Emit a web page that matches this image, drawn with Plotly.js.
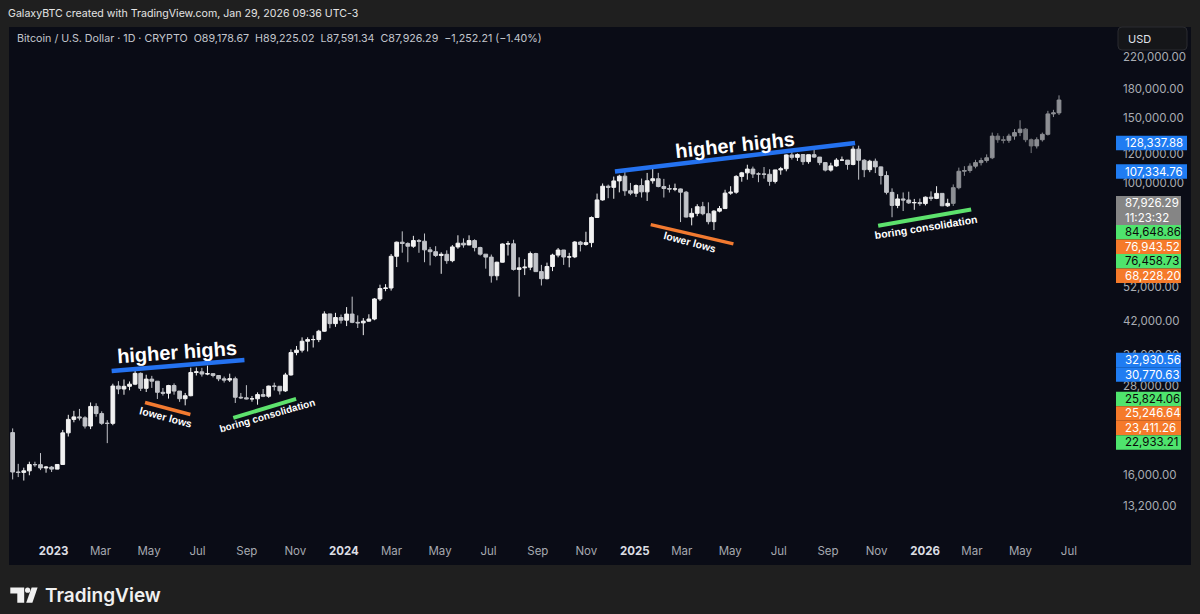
<!DOCTYPE html>
<html><head><meta charset="utf-8">
<script src="https://cdn.plot.ly/plotly-3.0.1.min.js"></script>
<style>html,body{margin:0;padding:0;background:#1f1f1f;}#chart{width:1200px;height:614px;}</style>
</head><body><div id="chart"></div><script>
// ---------------- DATA (weekly candles) ----------------
const weekStart = [
 '2022-11-07','2022-11-14','2022-11-21','2022-11-28','2022-12-05','2022-12-12','2022-12-19','2022-12-26',
 '2023-01-02','2023-01-09','2023-01-16','2023-01-23','2023-01-30','2023-02-06','2023-02-13','2023-02-20','2023-02-27',
 '2023-03-06','2023-03-13','2023-03-20','2023-03-27','2023-04-03','2023-04-10','2023-04-17','2023-04-24',
 '2023-05-01','2023-05-08','2023-05-15','2023-05-22','2023-05-29','2023-06-05','2023-06-12','2023-06-19','2023-06-26',
 '2023-07-03','2023-07-10','2023-07-17','2023-07-24','2023-07-31','2023-08-07','2023-08-14','2023-08-21','2023-08-28',
 '2023-09-04','2023-09-11','2023-09-18','2023-09-25','2023-10-02','2023-10-09','2023-10-16','2023-10-23','2023-10-30',
 '2023-11-06','2023-11-13','2023-11-20','2023-11-27','2023-12-04','2023-12-11','2023-12-18','2023-12-25',
 '2024-01-01','2024-01-08','2024-01-15','2024-01-22','2024-01-29','2024-02-05','2024-02-12','2024-02-19','2024-02-26',
 '2024-03-04','2024-03-11','2024-03-18','2024-03-25','2024-04-01','2024-04-08','2024-04-15','2024-04-22','2024-04-29',
 '2024-05-06','2024-05-13','2024-05-20','2024-05-27','2024-06-03','2024-06-10','2024-06-17','2024-06-24',
 '2024-07-01','2024-07-08','2024-07-15','2024-07-22','2024-07-29','2024-08-05','2024-08-12','2024-08-19','2024-08-26',
 '2024-09-02','2024-09-09','2024-09-16','2024-09-23','2024-09-30','2024-10-07','2024-10-14','2024-10-21','2024-10-28',
 '2024-11-04','2024-11-11','2024-11-18','2024-11-25','2024-12-02','2024-12-09','2024-12-16','2024-12-23','2024-12-30',
 '2025-01-06','2025-01-13','2025-01-20','2025-01-27','2025-02-03','2025-02-10','2025-02-17','2025-02-24',
 '2025-03-03','2025-03-10','2025-03-17','2025-03-24','2025-03-31','2025-04-07','2025-04-14','2025-04-21','2025-04-28',
 '2025-05-05','2025-05-12','2025-05-19','2025-05-26','2025-06-02','2025-06-09','2025-06-16','2025-06-23','2025-06-30',
 '2025-07-07','2025-07-14','2025-07-21','2025-07-28','2025-08-04','2025-08-11','2025-08-18','2025-08-25',
 '2025-09-01','2025-09-08','2025-09-15','2025-09-22','2025-09-29','2025-10-06','2025-10-13','2025-10-20','2025-10-27',
 '2025-11-03','2025-11-10','2025-11-17','2025-11-24','2025-12-01','2025-12-08','2025-12-15','2025-12-22','2025-12-29',
 '2026-01-05','2026-01-12','2026-01-19','2026-01-26'
];
const weekOpen = [
 20905,16330,16290,16450,17110,17100,16750,16840,
 16630,17120,20870,22710,23070,22930,21780,24630,23550,22160,22150,27990,27470,27940,28320,30300,27590,29230,28850,26910,26750,28080,27120,25850,26340,30470,30590,30170,30250,29900,29280,29050,29300,26090,26000,25830,25840,26530,26250,27980,27950,27150,30000,34520,35040,37060,37450,37450,39460,43980,41380,43000,
 42280,43940,41720,41580,42030,42590,48300,51570,51730,63100,68950,68390,67210,69650,69360,65700,64950,63430,63900,61400,66920,68500,67760,69650,66650,63950,62780,55850,60800,68160,68250,58120,58700,58950,64200,57330,54840,59200,63580,65640,62820,62870,69000,67950,68750,80470,89850,97900,97200,101200,104250,95150,93700,
 98300,94500,101300,102600,97700,96500,96150,96250,94300,80700,82600,86100,82400,78400,83750,85100,93750,94300,104100,106450,109000,105700,105700,105500,100900,108400,109200,119100,117300,119400,114200,119300,117500,113500,108300,111200,115300,115300,112200,123500,115200,108600,114500,110500,104700,94200,86800,90400,89800,88200,88400,87800,
 91400,90700,93600,86600
];
const weekHigh = [
 21460,17190,16780,17420,17420,18390,16960,16950,
 17170,21260,23370,23960,24250,23160,25250,25120,23890,22600,28400,28860,29160,28800,31000,30480,30040,29830,28870,27650,28200,28450,27130,26800,31400,31430,31370,31800,30340,29990,29700,30240,29680,26800,28140,26300,26900,27480,28060,28580,27990,30400,35200,35980,37970,37980,38440,39800,44700,44030,44280,43800,
 45900,49000,43580,42850,43880,48590,52820,52990,64000,69200,73780,68900,71730,70300,72800,66900,67230,64700,65500,67700,71980,70600,71960,70190,67000,63980,63800,61000,68370,69400,70000,62700,62000,65000,64490,59800,60650,64130,66480,65640,64480,69400,69500,73600,81000,93480,99600,98900,104000,105200,108350,99950,98950,
 102700,106400,109350,106450,102500,98800,99500,96500,95000,85300,87450,88750,88500,84250,86500,95750,97900,104900,107100,112000,110700,106800,110400,108900,108500,110500,119500,123200,120250,119800,119300,124450,117600,113600,113400,116700,117900,115400,125700,126200,116000,115500,116400,110800,107500,96600,93100,94150,94600,90400,90600,91800,
 94800,97900,93700,90500
];
const weekLow = [
 15590,15820,15480,16000,16870,16530,16260,16330,
 16600,17100,20400,22300,22560,21450,21370,23090,21950,19570,21900,26600,26500,27260,28150,27130,26960,27660,25810,26360,25870,26510,25350,24800,26250,29900,29700,29950,29550,28860,28600,28700,25170,25800,25750,25370,24900,26110,26000,27220,26530,26970,29880,33940,34540,34770,35630,36850,39300,40200,40560,41400,
 40750,41500,40260,38500,41880,42260,47700,50700,50900,59000,64550,60800,66540,64500,60800,59600,62800,56550,60200,60800,66150,66600,67600,65080,63380,58400,53500,54300,60700,63400,57700,49000,56100,57850,57200,52550,54600,57500,62700,59800,58900,62400,65060,67450,66800,80300,89400,90800,90500,94200,92200,92550,91550,
 91200,89250,99500,97200,91200,94100,94900,78200,80500,76600,81150,81600,77100,74400,83100,85100,92800,93400,100700,102000,103100,100400,102700,98200,99600,105200,107500,115700,114700,111900,112700,116800,111700,107400,107300,110600,114800,108600,111600,102000,103600,106900,106300,98950,93000,80600,85300,83800,87600,84450,86600,86800,
 89300,90300,86400,86000
];
const weekClose = [
 16330,16290,16450,17110,17100,16750,16840,16630,
 17120,20870,22710,23070,22930,21780,24630,23550,22160,22150,27990,27470,27940,28320,30300,27590,29230,28850,26910,26750,28080,27120,25850,26340,30470,30590,30170,30250,29900,29280,29050,29300,26090,26000,25830,25840,26530,26250,27980,27950,27150,30000,34520,35040,37060,37450,37450,39460,43980,41380,43000,42280,
 43940,41720,41580,42030,42590,48300,51570,51730,63100,68950,68390,67210,69650,69360,65700,64950,63430,63900,61400,66920,68500,67760,69650,66650,63950,62780,55850,60800,68160,68250,58120,58700,58950,64200,57330,54840,59200,63580,65640,62820,62870,69000,67950,68750,80470,89850,97900,97200,101200,104250,95150,93700,98300,
 94500,101300,102600,97700,96500,96150,96250,94300,80700,82600,86100,82400,78400,83750,85100,93750,94300,104100,106450,109000,105700,105700,105500,100900,108400,109200,119100,117300,119400,114200,119300,117500,113500,108300,111200,115300,115300,112200,123500,115200,108600,114500,110500,104700,94200,86800,90400,89800,88200,88400,87800,91400,
 90700,93600,86600,87926.29
];
// projected (ghost) bars pattern
const ghostWeekStart = ['2026-02-02','2026-02-09','2026-02-16','2026-02-23','2026-03-02','2026-03-09','2026-03-16','2026-03-23','2026-03-30','2026-04-06',
 '2026-04-13','2026-04-20','2026-04-27','2026-05-04','2026-05-11','2026-05-18','2026-05-25','2026-06-01','2026-06-08','2026-06-15'];
const ghostOpen  = [87926,97000,107500,108000,111000,113500,115000,117000,134000,131000,130500,134000,137000,140000,131000,126000,131000,135500,154000,155000];
const ghostHigh  = [99000,110000,111000,113000,115500,117000,119500,137000,136500,134000,136000,140000,148000,141000,132000,133000,137000,157000,158000,173000];
const ghostLow   = [86500,96000,104500,106500,109500,111500,113500,116000,128500,128000,128500,131000,134000,129000,120500,124000,129500,134500,151000,153000];
const ghostClose = [97000,107500,108000,111000,113500,115000,117000,134000,131000,130500,134000,137000,140000,131000,126000,131000,135500,154000,155000,168000];

// trendlines drawn on the chart
const trendText       = ['higher highs','lower lows','boring consolidation','higher highs','lower lows','boring consolidation'];
const trendStartDate  = ['2023-03-15','2023-04-26','2023-08-15','2024-12-07','2025-01-21','2025-11-03'];
const trendEndDate    = ['2023-08-29','2023-06-22','2023-11-02','2025-10-05','2025-05-05','2026-02-28'];
const trendStartPrice = [30770.63,25246.64,22933.21,107334.76,76943.52,76458.73];
const trendEndPrice   = [32930.56,23411.26,25824.06,128337.88,68228.20,84648.86];
const trendKind       = ['high','low','cons','high','low','cons'];

const lastClose = 87926.29;
const barCountdown = '11:23:32';
const priceTicks = [13200,16000,28000,34000,42000,52000,100000,120000,150000,180000,220000];
const monthTicks = ['2023-01-01','2023-03-01','2023-05-01','2023-07-01','2023-09-01','2023-11-01',
 '2024-01-01','2024-03-01','2024-05-01','2024-07-01','2024-09-01','2024-11-01',
 '2025-01-01','2025-03-01','2025-05-01','2025-07-01','2025-09-01','2025-11-01',
 '2026-01-01','2026-03-01','2026-05-01','2026-07-01'];
const monthLabels = ['2023','Mar','May','Jul','Sep','Nov','2024','Mar','May','Jul','Sep','Nov',
 '2025','Mar','May','Jul','Sep','Nov','2026','Mar','May','Jul'];
const headerText = 'GalaxyBTC created with TradingView.com, Jan 29, 2026 09:36 UTC-3';
const symbolText = 'Bitcoin / U.S. Dollar · 1D · CRYPTO\u00a0\u00a0O89,178.67\u00a0\u00a0H89,225.02\u00a0\u00a0L87,591.34\u00a0\u00a0C87,926.29\u00a0\u00a0−1,252.21 (−1.40%)';

// ---------------- LAYOUT GEOMETRY ----------------
const W = 1200, H = 614, ML = 9, MR = 87, MT = 27, MB = 82;
const PW = W - ML - MR, PH = H - MT - MB;
const yLo = Math.log10(11214), yHi = Math.log10(265500);
const xRange = ['2022-11-05 21:36', '2026-08-25 09:36'];
const px = x => (x - ML) / PW;
const py = y => (MT + PH - y) / PH;
const priceToPx = p => MT + (yHi - Math.log10(p)) / (yHi - yLo) * PH;

const kindStyle = {
  high: {line: '#2472f0', box: '#1f7cf2', txt: '#ffffff', width: 4.5},
  low:  {line: '#f27a30', box: '#f57a2a', txt: '#ffffff', width: 3.5},
  cons: {line: '#5de26d', box: '#4fe46d', txt: '#0a0a0a', width: 4}
};
const PANEL = '#0a0c16';
const FONT = 'Inter, "Noto Sans", Roboto, sans-serif';
const BOLD = '"Liberation Sans", Arial, "DejaVu Sans", sans-serif';

// ---------------- TRACES ----------------
const traces = [];
traces.push({
  type: 'candlestick', x: weekStart, open: weekOpen, high: weekHigh, low: weekLow, close: weekClose,
  xperiod: 7 * 86400000, xperiod0: '2022-11-07', xperiodalignment: 'middle',
  increasing: {line: {color: '#f2f2f2', width: 1}, fillcolor: '#f2f2f2'},
  decreasing: {line: {color: '#c2c4c9', width: 1}, fillcolor: '#c2c4c9'},
  whiskerwidth: 0, hoverinfo: 'skip', showlegend: false
});
traces.push({
  type: 'candlestick', x: ghostWeekStart, open: ghostOpen, high: ghostHigh, low: ghostLow, close: ghostClose,
  xperiod: 7 * 86400000, xperiod0: '2022-11-07', xperiodalignment: 'middle',
  increasing: {line: {color: '#8d8f94', width: 1}, fillcolor: '#8d8f94'},
  decreasing: {line: {color: '#75777c', width: 1}, fillcolor: '#75777c'},
  whiskerwidth: 0, hoverinfo: 'skip', showlegend: false
});
for (let i = 0; i < trendText.length; i++) {
  const st = kindStyle[trendKind[i]];
  traces.push({
    type: 'scatter', mode: 'lines', x: [trendStartDate[i], trendEndDate[i]], y: [trendStartPrice[i], trendEndPrice[i]],
    line: {color: st.line, width: st.width}, hoverinfo: 'skip', showlegend: false
  });
}

// ---------------- ANNOTATIONS / SHAPES ----------------
const shapes = [];
const annotations = [];
// dark chart panel
shapes.push({type: 'rect', xref: 'paper', yref: 'paper', x0: px(9), x1: px(1191), y0: py(565), y1: py(27),
  fillcolor: PANEL, line: {width: 0}, layer: 'below'});

// trendline notes (anchor in data coords, text along the line)
const noteCfg = [
  {x: '2023-06-05', p: 34650, size: 20, angle: -4},
  {x: '2023-05-22', p: 23060, size: 10.5, angle: 15},
  {x: '2023-09-27', p: 23200, size: 10, angle: -16},
  {x: '2025-05-07', p: 126700, size: 20, angle: -6},
  {x: '2025-03-12', p: 69000, size: 10.5, angle: 15},
  {x: '2026-01-02', p: 76000, size: 10.5, angle: -9}
];
noteCfg.forEach((n, i) => annotations.push({
  xref: 'x', yref: 'y', x: n.x, y: Math.log10(n.p), text: '<b>' + trendText[i] + '</b>', showarrow: false,
  textangle: n.angle, xanchor: 'center', yanchor: 'middle',
  font: {family: BOLD, size: n.size, color: '#ffffff'}
}));

// price scale labels (stacked like the price axis does)
const labels = [];
for (let i = 0; i < trendText.length; i++) {
  labels.push({price: trendStartPrice[i], kind: trendKind[i]});
  labels.push({price: trendEndPrice[i], kind: trendKind[i]});
}
labels.push({price: lastClose, kind: 'last'});
labels.sort((a, b) => b.price - a.price);
const LH = 14.5;
let prevBottom = -1e9;
const fmt = v => v.toLocaleString('en-US', {minimumFractionDigits: 2, maximumFractionDigits: 2});
labels.forEach(l => {
  const lines = l.kind === 'last' ? [fmt(l.price), barCountdown] : [fmt(l.price)];
  let top = Math.max(priceToPx(l.price) - LH / 2, prevBottom);
  const h = LH * lines.length;
  const st = l.kind === 'last' ? {box: '#858585', txt: '#ffffff'} : kindStyle[l.kind];
  const wBox = 65 + (lines[0].length - 9) * 6;
  shapes.push({type: 'rect', xref: 'paper', yref: 'paper', x0: px(1116), x1: px(1116 + wBox), y0: py(top + h), y1: py(top),
    fillcolor: st.box, line: {width: 0}, layer: 'above'});
  lines.forEach((t, k) => annotations.push({
    xref: 'paper', yref: 'paper', x: px(1123), y: py(top + LH * k + LH / 2), text: t, showarrow: false,
    xanchor: 'left', yanchor: 'middle', font: {family: FONT, size: 11.5, color: st.txt}
  }));
  prevBottom = top + h;
});

// USD box
shapes.push({type: 'path', xref: 'paper', yref: 'paper', layer: 'above',
  path: `M${px(1122)},${py(27)} L${px(1183)},${py(27)} Q${px(1187)},${py(27)} ${px(1187)},${py(31)} L${px(1187)},${py(46)} Q${px(1187)},${py(50)} ${px(1183)},${py(50)} L${px(1122)},${py(50)} Q${px(1118)},${py(50)} ${px(1118)},${py(46)} L${px(1118)},${py(31)} Q${px(1118)},${py(27)} ${px(1122)},${py(27)} Z`,
  fillcolor: '#151619', line: {color: '#2a2b30', width: 1}});
annotations.push({xref: 'paper', yref: 'paper', x: px(1126), y: py(38.5), text: 'USD', showarrow: false,
  xanchor: 'left', yanchor: 'middle', font: {family: FONT, size: 11, color: '#e0e3ea'}});

// symbol info line
annotations.push({xref: 'paper', yref: 'paper', x: px(15), y: py(38), text: symbolText, showarrow: false,
  xanchor: 'left', yanchor: 'middle', font: {family: FONT, size: 10.7, color: '#c3c6cd'}});

// TradingView logo
shapes.push({type: 'path', xref: 'paper', yref: 'paper', layer: 'above',
  path: `M${px(10.3)},${py(587.5)} L${px(24.2)},${py(587.5)} L${px(24.2)},${py(602.8)} L${px(17.3)},${py(602.8)} L${px(17.3)},${py(593.6)} L${px(10.3)},${py(593.6)} Z`,
  fillcolor: '#f0f0f0', line: {width: 0}});
shapes.push({type: 'circle', xref: 'paper', yref: 'paper', layer: 'above',
  x0: px(25.0), x1: px(30.2), y0: py(592.8), y1: py(587.6), fillcolor: '#f0f0f0', line: {width: 0}});
shapes.push({type: 'path', xref: 'paper', yref: 'paper', layer: 'above',
  path: `M${px(26.2)},${py(602.8)} L${px(32.4)},${py(602.8)} L${px(37.6)},${py(587.5)} L${px(31.6)},${py(587.5)} Z`,
  fillcolor: '#f0f0f0', line: {width: 0}});
annotations.push({xref: 'paper', yref: 'paper', x: px(43), y: py(595.5), text: 'TradingView', showarrow: false,
  xanchor: 'left', yanchor: 'middle', font: {family: FONT, size: 19, color: '#f0f0f0', weight: 600}});

const tickText = monthLabels.map(s => /^\d{4}$/.test(s) ? '<span style="color:#dcdee3"><b>' + s + '</b></span>' : s);

const layout = {
  width: W, height: H,
  paper_bgcolor: '#1f1f1f', plot_bgcolor: PANEL,
  margin: {l: ML, r: MR, t: MT, b: MB, pad: 0},
  title: {text: headerText, x: 8 / W, xref: 'container', xanchor: 'left', y: 1 - 13 / H, yref: 'container', yanchor: 'middle',
    font: {family: FONT, size: 10.6, color: '#e4e4e4'}},
  showlegend: false,
  xaxis: {type: 'date', range: xRange, tickvals: monthTicks, ticktext: tickText, ticks: '', showgrid: false,
    zeroline: false, showline: false, rangeslider: {visible: false}, fixedrange: true,
    tickfont: {family: FONT, size: 11.5, color: '#a6a9b0'}, ticklabelstandoff: 10},
  yaxis: {type: 'log', range: [yLo, yHi], side: 'right', tickvals: priceTicks, tickformat: ',.2f', ticks: '',
    showgrid: false, zeroline: false, showline: false, fixedrange: true,
    tickfont: {family: FONT, size: 11.5, color: '#a9acb3'}, ticklabelstandoff: 9},
  boxgap: 0.04,
  shapes: shapes, annotations: annotations
};

Plotly.newPlot('chart', traces, layout, {displayModeBar: false, staticPlot: true});
</script></body></html>
